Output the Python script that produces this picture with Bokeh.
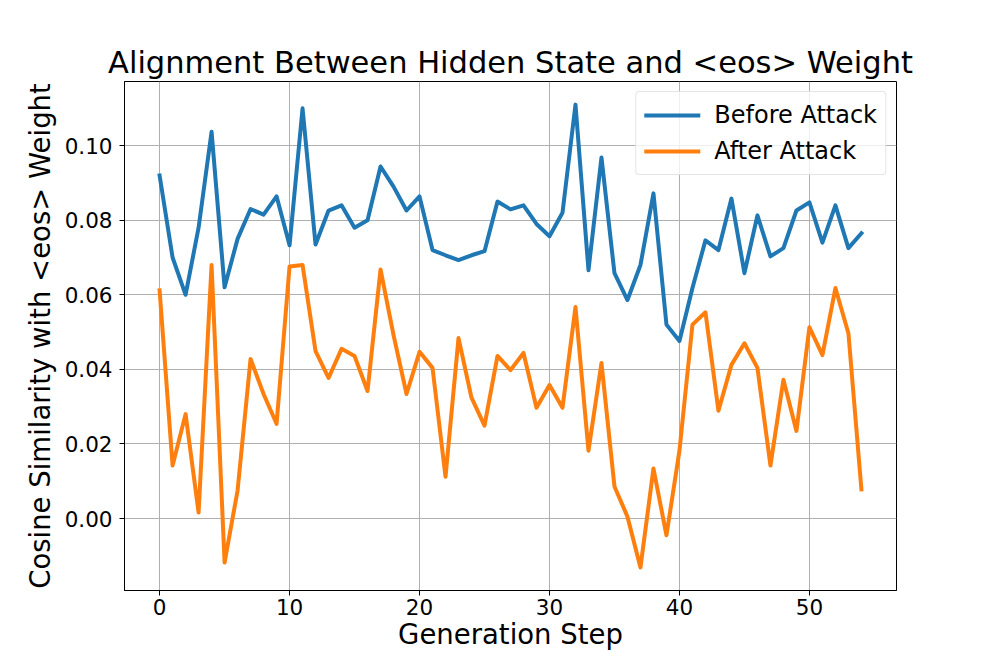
from bokeh.plotting import figure
from bokeh.models import Range1d, FixedTicker, CustomJSTickFormatter, Legend, LegendItem
from bokeh.embed import file_html
from bokeh.resources import INLINE

steps = list(range(55))
before_attack = [0.0920, 0.0700, 0.0600, 0.0780, 0.1037, 0.0620, 0.0750, 0.0830, 0.0815, 0.0864,
                 0.0733, 0.1100, 0.0735, 0.0826, 0.0840, 0.0780, 0.0800, 0.0944, 0.0890, 0.0826,
                 0.0864, 0.0720, 0.0706, 0.0693, 0.0706, 0.0717, 0.0850, 0.0829, 0.0840, 0.0790,
                 0.0757, 0.0820, 0.1110, 0.0666, 0.0968, 0.0658, 0.0586, 0.0680, 0.0872, 0.0520,
                 0.0476, 0.0618, 0.0746, 0.0720, 0.0858, 0.0658, 0.0813, 0.0703, 0.0725, 0.0826,
                 0.0848, 0.0740, 0.0840, 0.0725, 0.0765]
after_attack = [0.0612, 0.0142, 0.0280, 0.0016, 0.0680, -0.0118, 0.0075, 0.0428, 0.0334, 0.0254,
                0.0676, 0.0680, 0.0449, 0.0377, 0.0455, 0.0436, 0.0342, 0.0668, 0.0492, 0.0334,
                0.0447, 0.0404, 0.0112, 0.0484, 0.0324, 0.0249, 0.0436, 0.0398, 0.0444, 0.0297,
                0.0358, 0.0297, 0.0567, 0.0182, 0.0417, 0.0086, 0.0005, -0.0131, 0.0134, -0.0045,
                0.0182, 0.0520, 0.0553, 0.0289, 0.0412, 0.0470, 0.0404, 0.0142, 0.0372, 0.0235,
                0.0513, 0.0438, 0.0618, 0.0497, 0.0078]
x_ticks = [0, 10, 20, 30, 40, 50]
y_ticks = [0.00, 0.02, 0.04, 0.06, 0.08, 0.10]
series_names = ["Before Attack", "After Attack"]
series_colors = ["#1f77b4", "#ff7f0e"]

FONT = "DejaVu Sans"

p = figure(width=980, height=656, output_backend="svg", toolbar_location=None,
           x_range=Range1d(-2.7, 56.7), y_range=Range1d(-0.0193, 0.1172),
           min_border_left=124, min_border_right=84, min_border_top=81, min_border_bottom=66,
           title="Alignment Between Hidden State and <eos> Weight")

p.title.align = "center"
p.title.text_font = FONT
p.title.text_font_size = "30.5px"
p.title.text_font_style = "normal"
p.title.text_color = "black"
p.title.standoff = 4

p.outline_line_color = "black"
p.outline_line_width = 1
p.background_fill_color = "white"
p.border_fill_color = "white"

for ax in (p.xaxis[0], p.yaxis[0]):
    ax.axis_label_text_font = FONT
    ax.axis_label_text_font_size = "27.5px"
    ax.axis_label_text_font_style = "normal"
    ax.axis_label_text_color = "black"
    ax.major_label_text_font = FONT
    ax.major_label_text_font_size = "21.5px"
    ax.major_label_text_color = "black"
    ax.major_tick_out = 5
    ax.major_tick_in = 0
    ax.minor_tick_out = 0
    ax.minor_tick_in = 0
    ax.axis_line_color = "black"
    ax.major_tick_line_color = "black"

p.xaxis.axis_label = "Generation Step"
p.yaxis.axis_label = "Cosine Similarity with <eos> Weight"
p.xaxis.ticker = FixedTicker(ticks=x_ticks)
p.yaxis.ticker = FixedTicker(ticks=y_ticks)
p.yaxis.formatter = CustomJSTickFormatter(code="return tick.toFixed(2);")
p.xaxis.major_label_standoff = 3
p.yaxis.major_label_standoff = 7
p.xaxis.axis_label_standoff = 0
p.yaxis.axis_label_standoff = 6

p.xgrid.grid_line_color = "#b0b0b0"
p.ygrid.grid_line_color = "#b0b0b0"
p.xgrid.grid_line_width = 1
p.ygrid.grid_line_width = 1

r1 = p.line(steps, before_attack, line_color=series_colors[0], line_width=4,
            line_join="round", line_cap="square")
r2 = p.line(steps, after_attack, line_color=series_colors[1], line_width=4,
            line_join="round", line_cap="square")

legend = Legend(items=[LegendItem(label=series_names[0], renderers=[r1]),
                       LegendItem(label=series_names[1], renderers=[r2])],
                location="top_right")
legend.label_text_font = FONT
legend.label_text_font_size = "24px"
legend.label_text_color = "black"
legend.glyph_width = 56
legend.glyph_height = 30
legend.label_height = 30
legend.label_standoff = 14
legend.spacing = 6
legend.padding = 8
legend.margin = 10
legend.border_line_color = "#cccccc"
legend.border_line_width = 1
legend.background_fill_alpha = 0.8
legend.border_radius = 4
p.add_layout(legend)

open("out.html", "w").write(file_html(p, INLINE))
